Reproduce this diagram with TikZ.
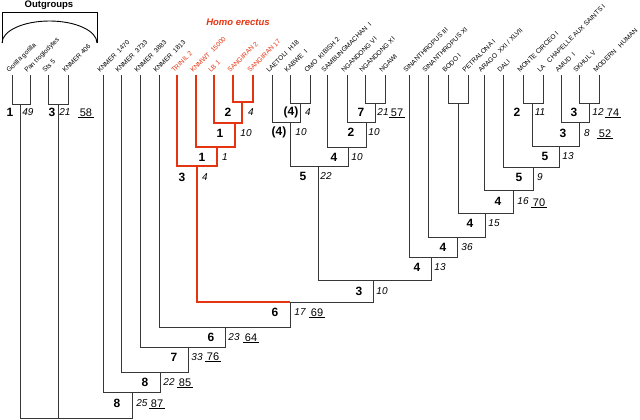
\documentclass[tikz,border=0pt]{standalone}
\usepackage{fontspec}
\setmainfont{Liberation Sans}
\usepackage{tikz}
\definecolor{erectus}{RGB}{228,52,18}
\definecolor{treegray}{RGB}{55,55,55}

\begin{document}
\begin{tikzpicture}[x=1pt,y=-1pt,
    clade/.style={draw=treegray,line width=0.9pt},
    hclade/.style={draw=erectus,line width=2.6pt},
    taxon/.style={rotate=45,anchor=base west,inner sep=0pt,font=\fontsize{6.6}{7}\selectfont},
    bremer/.style={inner sep=0pt,font=\fontsize{12}{14}\selectfont\bfseries},
    blen/.style={inner sep=0pt,font=\fontsize{10}{12}\selectfont\itshape},
    boot/.style={inner sep=0pt,anchor=base,font=\fontsize{11}{13}\selectfont}]
            \useasboundingbox (0,0) rectangle (640,420);
            % Outgroups:
            \draw[line width=0.9pt] (2,43) -- (2,12) -- (97,12) -- (97,43);
            \draw[line width=0.9pt] (2,43) arc[start angle=180,end angle=360,x radius=47.5,y radius=22];
            \node[font=\fontsize{9.5}{11}\selectfont\bfseries] (outgroups) at (49,5) {Outgroups};
            \node[font=\fontsize{9.5}{11}\selectfont\bfseries\itshape,text=erectus] (erectus) at (238,22) {Homo erectus};

            %taxa
            \foreach \x/\name [count=\n] in {12/Gorilla gorilla, 30/Pan troglodytes, 48/Sts 5, 68/KNMER 406,
                    103/KNMER\ \ 1470, 121/KNMER\ \ 3733, 140/KNMER\ \ 3883, 159/KNMER\ \ 1813,
                    272/LAETOLI\ \ H18, 290/KABWE\ \ I, 310/OMO\ \ KIBISH 2, 327/SAMBUNGMACHAN\ \ I,
                    347/NGANDONG VI, 365/NGANDONG XI, 385/NGAWI, 409/SINANTHROPUS III,
                    428/SINANTHROPUS XI, 448/BODO I, 468/PETRALONA I, 484/{ARAGO\ \ XXI / XLVII},
                    503/DALI, 523/MONTE CIRCEO I, 543/LA\ \ \ CHAPELLE AUX SAINTS I, 561/AMUD\ \ I,
                    579/SKHUL V, 599/MODERN\ \ \ HUMAN}
                \node[taxon] (taxon-\n) at (\x-3,73) {\name};
            \foreach \x/\name [count=\n] in {177/TRINIL 2, 196/KNMWT\ \ 15000, 214/LB 1,
                    233/SANGIRAN 2, 253/SANGIRAN 17}
                \node[taxon,text=erectus] (erectus-\n) at (\x-3,73) {\name};

            % black branches: y / left x / left top / right x / right top
            \foreach \y/\xl/\tl/\xr/\tr in {104/12/75/30/75, 104/48/75/68/75,
                    392/103/75/160/372, 372/121/75/188/347, 347/140/75/225/327, 327/159/75/290/302,
                    280/318/166/431/257, 166/290/122/348/147, 122/272/75/300/103, 103/290/75/310/75,
                    147/327/75/366/122, 122/347/75/375/103, 103/365/75/385/75,
                    257/409/75/457/237, 237/428/75/485/213, 213/458/103/513/190, 103/448/75/468/75,
                    190/484/75/533/167, 167/503/75/559/146, 146/532/103/579/122, 103/523/75/543/75,
                    122/561/75/589/103, 103/579/75/599/75}
                \draw[clade] (\xl,\tl) |- (\xr,\y) -- (\xr,\tr);
            \draw[clade] (20,104) |- (132,418) -- (132,392);
            \draw[clade] (58,104) -- (58,418);
            \draw[clade] (290,302) -| (373,280);

            % Homo erectus branches
            \foreach \y/\xl/\tl/\xr/\tr in {166/177/75/217/147, 147/196/75/235/123,
                    123/214/75/242/102, 102/233/75/253/75}
                \draw[hclade] (\xl,\tl) |- (\xr,\y) -- (\xr,\tr);
            \draw[hclade] (197,166) |- (290,302);

            % support / length
            \foreach \bx/\ix/\y/\b/\i [count=\n] in {10/28/112/1/49, 52/65/112/3/21,
                    117/142/403/8/25, 145/169/382/8/22, 174/197/357/7/33, 211/234/337/6/23,
                    275/300/312/6/17, 182/205/177/3/4, 202/225/157/1/1, 220/246/133/1/10,
                    228/251/112/2/4, 359/382/291/3/10, 303/326/176/5/22, 279/301/132/(4)/10,
                    291/308/112/(4)/4, 334/357/157/4/10, 351/374/132/2/10, 361/383/112/7/21,
                    417/440/267/4/13, 443/467/247/4/36, 470/494/223/4/15, 498/523/201/4/16,
                    519/540/177/5/9, 545/568/156/5/13, 517/540/112/2/11, 563/587/133/3/8,
                    574/598/112/3/12}
                {
                \node[bremer] (bremer-\n) at (\bx,\y) {\b};
                \node[blen] (blen-\n) at (\ix,\y) {\i};
                }
            \foreach \x/\y/\v [count=\n] in {86/112/58, 157/403/87, 185/382/85, 213/356/76,
                    251/337/64, 317/312/69, 397/112/57, 539/202/70, 605/133/52, 613/112/74}
                \node[boot] (boot-\n) at (\x,\y+4) {\underline{\,\v\,}};
        \end{tikzpicture}
\end{document}
